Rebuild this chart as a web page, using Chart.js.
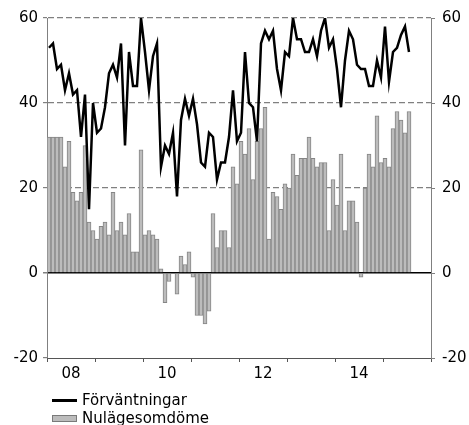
<!DOCTYPE html>
<html>
<head>
<meta charset="utf-8">
<script src="https://cdn.jsdelivr.net/npm/chart.js@4.4.0/dist/chart.umd.min.js"></script>
<style>
    html, body { margin: 0; padding: 0; background: #fff; }
    #wrap { position: relative; width: 469px; height: 425px; }
    #legend { position: absolute; left: 52px; top: 391px; font: 15px 'DejaVu Sans', sans-serif; color: #000; }
    .item { height: 18px; display: flex; align-items: center; }
    .line { width: 25px; height: 3px; background: #000; margin-right: 5px; }
    .box { width: 25px; height: 7px; background: #bcbcbc; border: 1px solid #7a7a7a; margin-right: 5px; box-sizing: border-box; }
</style>
</head>
<body>
<div id="wrap">
    <canvas id="chart"></canvas>
    <div id="legend">
        <div class="item"><span class="line"></span>Förväntningar</div>
        <div class="item"><span class="box"></span>Nulägesomdöme</div>
    </div>
</div>
<script>
const years = ['2008', '2009', '2010', '2011', '2012', '2013', '2014', '2015'];
const yearTicks = ['08', '10', '12', '14'];
const yTicks = [-20, 0, 20, 40, 60];

// Förväntningar, monthly from Jan 2008
const forvantningar = [
    53, 54, 48, 49, 43, 47, 42, 43, 32, 42, 15, 40,
    33, 34, 39, 47, 49, 46, 54, 30, 52, 44, 44, 60,
    52, 43, 51, 54, 25, 30, 28, 33, 18, 36, 41, 37,
    41, 35, 26, 25, 33, 32, 22, 26, 26, 32, 43, 31,
    33, 52, 40, 39, 31, 54, 57, 55, 57, 48, 43, 52,
    51, 60, 55, 55, 52, 52, 55, 51, 57, 60, 53, 55,
    48, 39, 50, 57, 55, 49, 48, 48, 44, 44, 50, 46,
    58, 45, 52, 53, 56, 58, 52
];

// Nulägesomdöme, monthly from Jan 2008
const nulage = [
    32, 32, 32, 32, 25, 31, 19, 17, 19, 30, 12, 10,
    8, 11, 12, 9, 19, 10, 12, 9, 14, 5, 5, 29,
    9, 10, 9, 8, 1, -7, -2, 0, -5, 4, 2, 5,
    -1, -10, -10, -12, -9, 14, 6, 10, 10, 6, 25, 21,
    31, 28, 34, 22, 31, 34, 39, 8, 19, 18, 15, 21,
    20, 28, 23, 27, 27, 32, 27, 25, 26, 26, 10, 22,
    16, 28, 10, 17, 17, 12, -1, 20, 28, 25, 37, 26,
    27, 25, 34, 38, 36, 33, 38
];

const months = [];
years.forEach(y => {
    for (let m = 1; m <= 12; m++) months.push(y + '-' + String(m).padStart(2, '0'));
});

Chart.defaults.font.family = "'DejaVu Sans', sans-serif";
Chart.defaults.font.size = 15;
Chart.defaults.color = '#000';

const yAxis = (pos) => ({
    type: 'linear',
    position: pos,
    min: yTicks[0],
    max: yTicks[yTicks.length - 1],
    afterBuildTicks: (scale) => { scale.ticks = yTicks.map(v => ({ value: v })); },
    afterFit: (scale) => { scale.width = pos === 'left' ? 47 : 38; },
    ticks: { padding: pos === 'left' ? 5 : 7 },
    border: { color: '#808080', width: 1 }
});

const left = yAxis('left');
left.grid = {
    color: (ctx) => ctx.tick && ctx.tick.value === 0 ? '#000' : (ctx.tick && ctx.tick.value === -20 ? 'rgba(0,0,0,0)' : '#808080'),
    lineWidth: (ctx) => ctx.tick && ctx.tick.value === 0 ? 1.5 : 1.2,
    tickColor: '#808080',
    tickLength: 4
};
left.border.dash = (ctx) => ctx.tick && ctx.tick.value === 0 ? [] : [6, 3];

const right = yAxis('right');
right.grid = { drawOnChartArea: false, color: '#808080', tickLength: 4 };

new Chart(document.getElementById('chart'), {
    type: 'bar',
    data: {
        labels: months,
        datasets: [{
            type: 'line',
            label: 'Förväntningar',
            data: forvantningar,
            borderColor: '#000',
            borderWidth: 2.5,
            pointRadius: 0,
            tension: 0,
            order: 0
        }, {
            label: 'Nulägesomdöme',
            data: nulage,
            backgroundColor: '#bcbcbc',
            borderColor: '#858585',
            borderWidth: 1,
            barPercentage: 1,
            categoryPercentage: 1,
            order: 1
        }]
    },
    options: {
        responsive: true,
        maintainAspectRatio: false,
        animation: false,
        layout: { padding: { top: 18, bottom: 37, left: 0, right: 0 } },
        plugins: { legend: { display: false }, tooltip: { enabled: false } },
        scales: {
            x: {
                grid: {
                    offset: true,
                    drawOnChartArea: false,
                    color: (ctx) => (ctx.type !== 'tick' || ctx.index % 12 === 0) ? '#555' : 'rgba(0,0,0,0)',
                    tickLength: 4
                },
                border: { color: '#555', width: 1 },
                afterFit: (scale) => { scale.height = 30; },
                ticks: {
                    autoSkip: false,
                    maxRotation: 0,
                    padding: 3,
                    labelOffset: -2,
                    callback: (value, index) => {
                        const m = months[index];
                        if (m && m.endsWith('-07') && yearTicks.includes(m.slice(2, 4))) return m.slice(2, 4);
                        return '';
                    }
                }
            },
            y: left,
            y1: right
        }
    }
});
</script>
</body>
</html>
